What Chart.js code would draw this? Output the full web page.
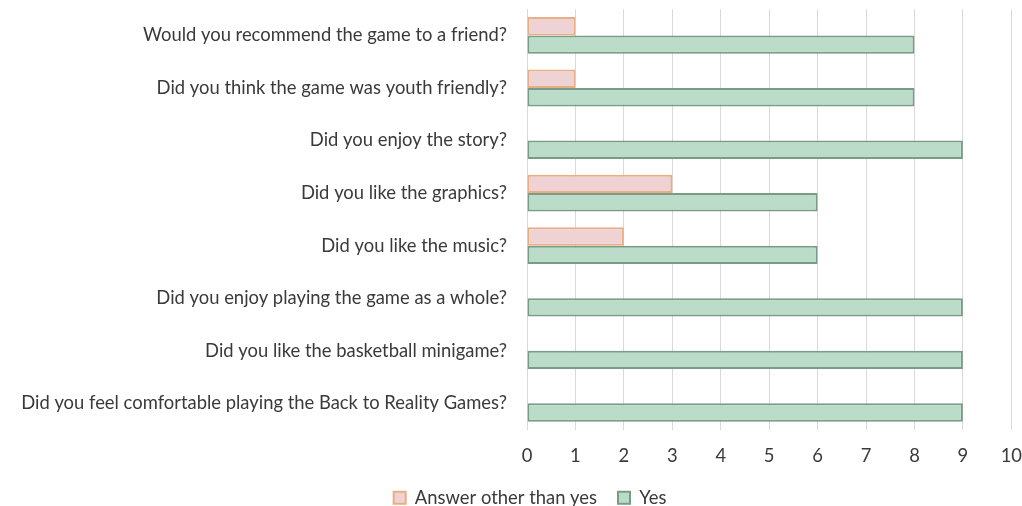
<!DOCTYPE html>
<html>
<head>
<meta charset="utf-8">
<script src="https://cdn.jsdelivr.net/npm/chart.js@4/dist/chart.umd.min.js"></script>
<style>
  html, body { margin: 0; padding: 0; background: #ffffff; }
  #wrap { position: relative; width: 1022px; height: 506px; }
  canvas { display: block; }
</style>
</head>
<body>
<div id="wrap"><canvas id="c" width="1022" height="506"></canvas></div>
<script>
const categories = [
  "Would you recommend the game to a friend?",
  "Did you think the game was youth friendly?",
  "Did you enjoy the story?",
  "Did you like the graphics?",
  "Did you like the music?",
  "Did you enjoy playing the game as a whole?",
  "Did you like the basketball minigame?",
  "Did you feel comfortable playing the Back to Reality Games?"
];
const otherValues = [1, 1, 0, 3, 2, 0, 0, 0];
const yesValues = [8, 8, 9, 6, 6, 9, 9, 9];
const seriesNames = ["Answer other than yes", "Yes"];
const xTicks = [0, 1, 2, 3, 4, 5, 6, 7, 8, 9, 10];

const textColor = "#3a3a3a";
const fontFamily = "Lato, 'Open Sans', sans-serif";
const fontSize = 18.4;

const chart = new Chart(document.getElementById("c"), {
  type: "bar",
  data: {
    labels: categories,
    datasets: [
      {
        label: seriesNames[0],
        data: otherValues,
        backgroundColor: "#efd3d4",
        borderColor: "#e9ae84",
        borderWidth: 2,
        borderSkipped: false,
        categoryPercentage: 0.7,
        barPercentage: 1.0
      },
      {
        label: seriesNames[1],
        data: yesValues,
        backgroundColor: "#bcdcca",
        borderColor: "#789d86",
        borderWidth: 2,
        borderSkipped: false,
        categoryPercentage: 0.7,
        barPercentage: 1.0
      }
    ]
  },
  options: {
    indexAxis: "y",
    responsive: false,
    animation: false,
    layout: { padding: { top: 0, left: 18, right: -20, bottom: -11 } },
    scales: {
      x: {
        min: 0,
        max: 10,
        afterBuildTicks: (axis) => { axis.ticks = xTicks.map(v => ({ value: v })); },
        grid: { color: "#d9d9d9", lineWidth: 1, drawTicks: true, tickLength: 16, tickColor: "rgba(0,0,0,0)" },
        border: { display: false },
        ticks: { color: textColor, font: { family: fontFamily, size: fontSize }, padding: 0 }
      },
      y: {
        afterFit: (scale) => { scale.width = 509; },
        grid: { display: false, drawTicks: true, tickLength: 20 },
        border: { display: true, color: "#d9d9d9" },
        ticks: { color: textColor, font: { family: fontFamily, size: fontSize, lineHeight: 1.0 }, padding: 0 }
      }
    },
    plugins: {
      legend: {
        position: "bottom",
        labels: {
          color: textColor,
          font: { family: fontFamily, size: fontSize },
          boxWidth: 12,
          boxHeight: 12,
          padding: 21
        }
      },
      tooltip: { enabled: false }
    }
  }
});
</script>
</body>
</html>
